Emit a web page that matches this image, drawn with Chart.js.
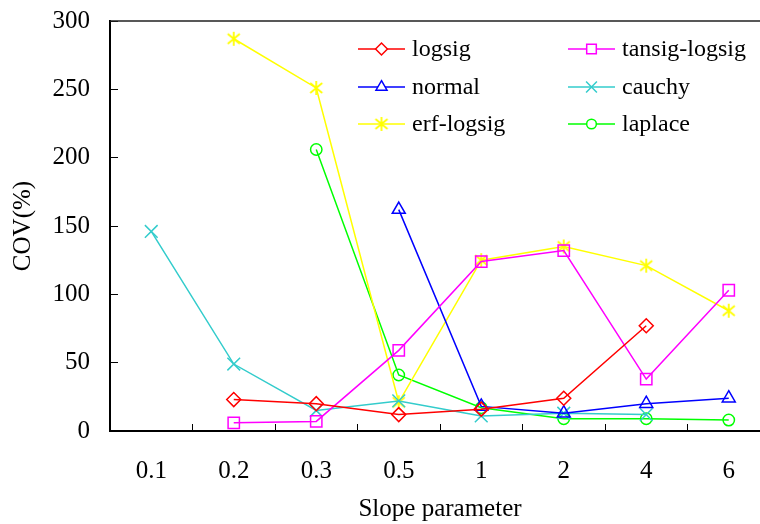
<!DOCTYPE html>
<html>
<head>
<meta charset="utf-8">
<script src="https://cdn.jsdelivr.net/npm/chart.js@4.4.1/dist/chart.umd.min.js"></script>
<style>
  html, body { margin: 0; padding: 0; background: #fff; overflow: hidden; }
  #wrap { width: 772px; height: 524px; }
</style>
</head>
<body>
<div id="wrap"><canvas id="cov_chart" width="772" height="524"></canvas></div>
<script>
// slope parameter categories
const slopes = ['0.1', '0.2', '0.3', '0.5', '1', '2', '4', '6'];

// COV(%) per activation function
const logsig       = [null, 23, 20, 12, 16, 24, 77, null];
const tansigLogsig = [null, 6, 7, 59, 124, 132, 38, 103];
const normal       = [null, null, null, 162, 18, 13, 20, 24];
const cauchy       = [146, 49, 15, 22, 11, 13, 12, null];
const erfLogsig    = [null, 287, 251, 21, 125, 135, 121, 88];
const laplace      = [null, null, 206, 41, 17, 9, 9, 8];

const yTicks = [0, 50, 100, 150, 200, 250, 300];

const serif = '"Liberation Serif", "Times New Roman", serif';

// six-armed asterisk marker (vertical stroke plus an X)
function asterisk(color) {
  const c = document.createElement('canvas');
  c.width = 16;
  c.height = 16;
  const g = c.getContext('2d');
  g.strokeStyle = color;
  g.lineWidth = 1.8;
  g.beginPath();
  g.moveTo(8, 1); g.lineTo(8, 15);
  g.moveTo(2, 3); g.lineTo(14, 13);
  g.moveTo(14, 3); g.lineTo(2, 13);
  g.stroke();
  return c;
}

function series(label, data, color, style, radius) {
  return {
    label: label,
    data: data,
    borderColor: color,
    backgroundColor: 'rgba(0,0,0,0)',
    borderWidth: 1.5,
    pointStyle: style,
    pointRadius: radius,
    pointBorderColor: color,
    pointBackgroundColor: 'rgba(0,0,0,0)',
    pointBorderWidth: 1.5,
    tension: 0
  };
}

const datasets = [
  series('logsig', logsig, '#FF0000', 'rectRot', 7),
  series('tansig-logsig', tansigLogsig, '#FF00FF', 'rect', 8),
  series('normal', normal, '#0000FF', 'triangle', 7.5),
  series('cauchy', cauchy, '#33CCCC', 'crossRot', 9),
  series('erf-logsig', erfLogsig, '#FFFF00', asterisk('#FFFF00'), 7),
  series('laplace', laplace, '#00FF00', 'circle', 5.7)
];

// two column legend inside the plot, drawn with the dataset styles
const gridLegend = {
  id: 'gridLegend',
  afterDraw(chart) {
    const ctx = chart.ctx;
    const cols = [358, 568];
    const rows = [49, 87, 124];
    ctx.save();
    ctx.font = '24px ' + serif;
    ctx.textBaseline = 'middle';
    ctx.textAlign = 'left';
    chart.data.datasets.forEach((ds, i) => {
      const x = cols[i % 2];
      const y = rows[Math.floor(i / 2)];
      ctx.strokeStyle = ds.borderColor;
      ctx.lineWidth = 1.5;
      ctx.beginPath();
      ctx.moveTo(x, y);
      ctx.lineTo(x + 47, y);
      ctx.stroke();
      ctx.fillStyle = '#fff';
      Chart.helpers.drawPoint(ctx, {
        pointStyle: ds.pointStyle,
        radius: ds.pointRadius * 0.85,
        borderWidth: 1.5,
        rotation: 0
      }, x + 23.5, y);
      ctx.fillStyle = '#000';
      ctx.fillText(ds.label, x + 54, y + 1);
    });
    ctx.restore();
  }
};

// thin frame on top and right
const frame = {
  id: 'frame',
  afterDraw(chart) {
    const a = chart.chartArea;
    const ctx = chart.ctx;
    ctx.save();
    ctx.strokeStyle = '#222';
    ctx.lineWidth = 1.5;
    ctx.beginPath();
    ctx.moveTo(a.left, a.top);
    ctx.lineTo(a.right, a.top);
    ctx.lineTo(a.right, a.bottom);
    ctx.stroke();
    ctx.restore();
  }
};

new Chart('cov_chart', {
  type: 'line',
  data: { labels: slopes, datasets: datasets },
  plugins: [gridLegend, frame],
  options: {
    responsive: false,
    animation: false,
    layout: { autoPadding: false, padding: { top: 21, right: 2, left: 0, bottom: 0 } },
    plugins: {
      legend: { display: false },
      tooltip: { enabled: false }
    },
    scales: {
      x: {
        offset: true,
        grid: {
          offset: true,
          drawOnChartArea: false,
          color: '#000',
          tickLength: -7,
          lineWidth: 1
        },
        border: { color: '#000', width: 2 },
        ticks: {
          color: '#000',
          font: { family: serif, size: 25 },
          padding: 32,
          maxRotation: 0,
          autoSkip: false
        },
        title: {
          display: true,
          text: 'Slope parameter',
          color: '#000',
          font: { family: serif, size: 25 },
          padding: { top: 0, bottom: 0 }
        },
        afterFit(scale) {
          scale.height = 93;
          scale.paddingLeft = 0;
          scale.paddingRight = 0;
        }
      },
      y: {
        min: 0,
        max: 300,
        afterBuildTicks(scale) { scale.ticks = yTicks.map(v => ({ value: v })); },
        grid: {
          drawOnChartArea: false,
          color: '#000',
          tickLength: -8,
          lineWidth: 1
        },
        border: { color: '#000', width: 2 },
        ticks: {
          color: '#000',
          font: { family: serif, size: 25 },
          padding: 28
        },
        title: {
          display: true,
          text: 'COV(%)',
          color: '#000',
          font: { family: serif, size: 25 },
          padding: { top: 8, bottom: 0 }
        },
        afterFit(scale) {
          scale.width = 110;
          scale.paddingTop = 0;
          scale.paddingBottom = 0;
        }
      }
    }
  }
});
</script>
</body>
</html>
